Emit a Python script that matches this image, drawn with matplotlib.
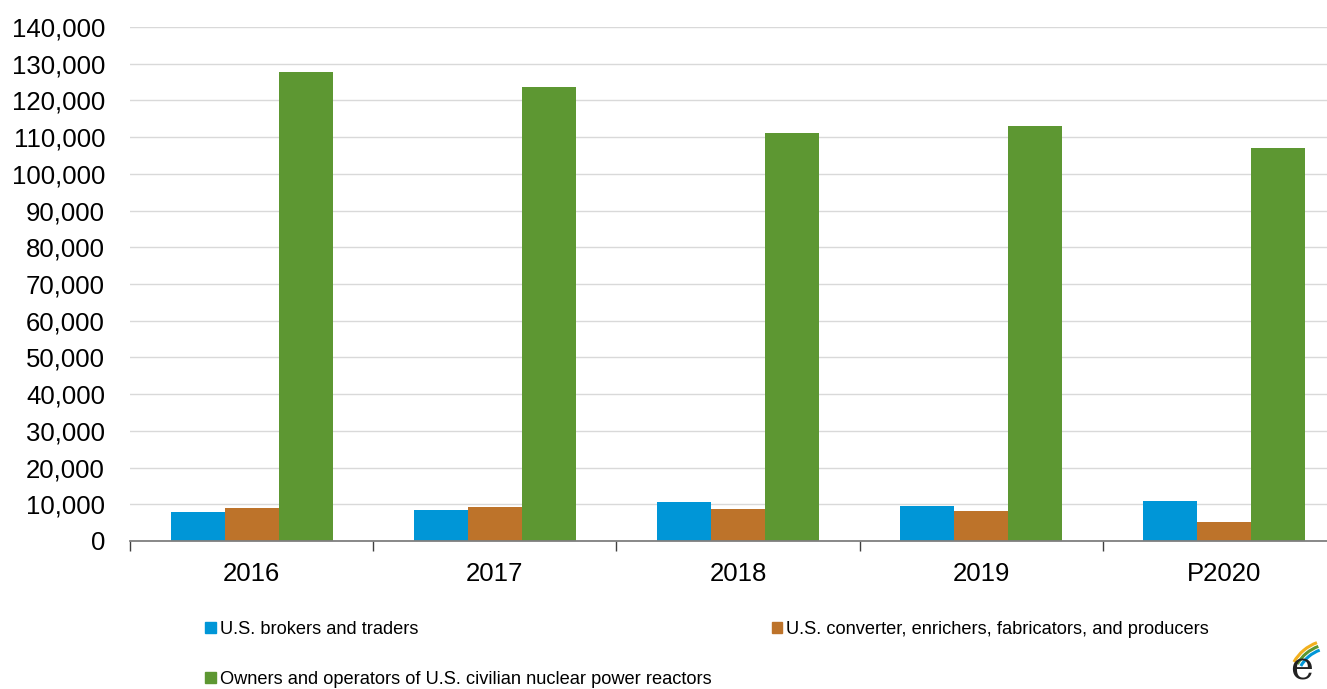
import numpy as np
import matplotlib.pyplot as plt
from matplotlib.patches import Patch, Arc
from matplotlib.ticker import FuncFormatter, FixedLocator

plt.rcParams['font.family'] = ['Liberation Sans', 'DejaVu Sans']

# -----------------------------
# Data (short tons U3O8e)
# -----------------------------
years = ["2016", "2017", "2018", "2019", "P2020"]
brokers = [7800, 8500, 10650, 9450, 10950]
converters = [8900, 9350, 8700, 8050, 5100]
owners = [127800, 123700, 111100, 113050, 107050]

series_names = [
    "U.S. brokers and traders",
    "U.S. converter, enrichers, fabricators, and producers",
    "Owners and operators of U.S. civilian nuclear power reactors",
]
colors = ["#0096D7", "#BD732A", "#5D9732"]

# -----------------------------
# Figure
# -----------------------------
fig = plt.figure(figsize=(13.27, 6.89), dpi=100)
ax = fig.add_axes([130 / 1327, 148 / 689, 1197 / 1327, 514 / 689])

x = np.arange(len(years))
w = 2 / 9
for i, vals in enumerate([brokers, converters, owners]):
    ax.bar(x + (i - 1) * w, vals, width=w, color=colors[i], zorder=3)

ax.set_ylim(0, 140000)
ax.set_yticks(np.arange(0, 140001, 10000))
ax.yaxis.set_major_formatter(FuncFormatter(lambda v, p: f"{int(v):,}"))
ax.set_xlim(-0.5, 4.5 - 19 / 243)
ax.set_xticks(x)
ax.set_xticklabels(years)
ax.xaxis.set_minor_locator(FixedLocator(np.arange(-0.5, 4.6, 1)))

ax.grid(axis="y", color="#D9D9D9", linewidth=1, zorder=0)
for s in ["top", "right", "left"]:
    ax.spines[s].set_visible(False)
ax.spines["bottom"].set_color("#7F7F7F")
ax.spines["bottom"].set_linewidth(1.3)
ax.spines["bottom"].set_zorder(4)

ax.tick_params(axis="y", length=0, pad=18, labelsize=18.5)
ax.tick_params(axis="x", which="major", length=0, pad=15, labelsize=18.5)
ax.tick_params(axis="x", which="minor", length=7, width=1, color="#404040")

# -----------------------------
# Legend
# -----------------------------
handles = [Patch(color=c) for c in colors]
order = [0, 2, 1]
fig.legend(
    [handles[i] for i in order],
    [series_names[i] for i in order],
    loc="upper left",
    bbox_to_anchor=(205 / 1327, 1 - 621 / 689),
    ncol=2,
    frameon=False,
    fontsize=13.15,
    handlelength=0.6,
    handleheight=0.6,
    handletextpad=0.2,
    labelspacing=1.8,
    columnspacing=3.3,
    borderaxespad=0,
    borderpad=0,
)

# -----------------------------
# Logo fragment (bottom right)
# -----------------------------
lax = fig.add_axes([1280 / 1327, 0, 47 / 1327, 60 / 689])
lax.set_xlim(0, 47)
lax.set_ylim(0, 60)
lax.axis("off")
for r, c in zip([44, 40, 36], ["#F2B01E", "#5D9732", "#0096D7"]):
    lax.add_patch(Arc((52, 5), 2 * r, 2 * r, theta1=110, theta2=150, color=c, lw=2.2))
lax.text(22, 2, "e", fontsize=28, family="DejaVu Serif", color="#222222",
         ha="center", va="bottom")

fig.savefig("out.png", dpi=100)
